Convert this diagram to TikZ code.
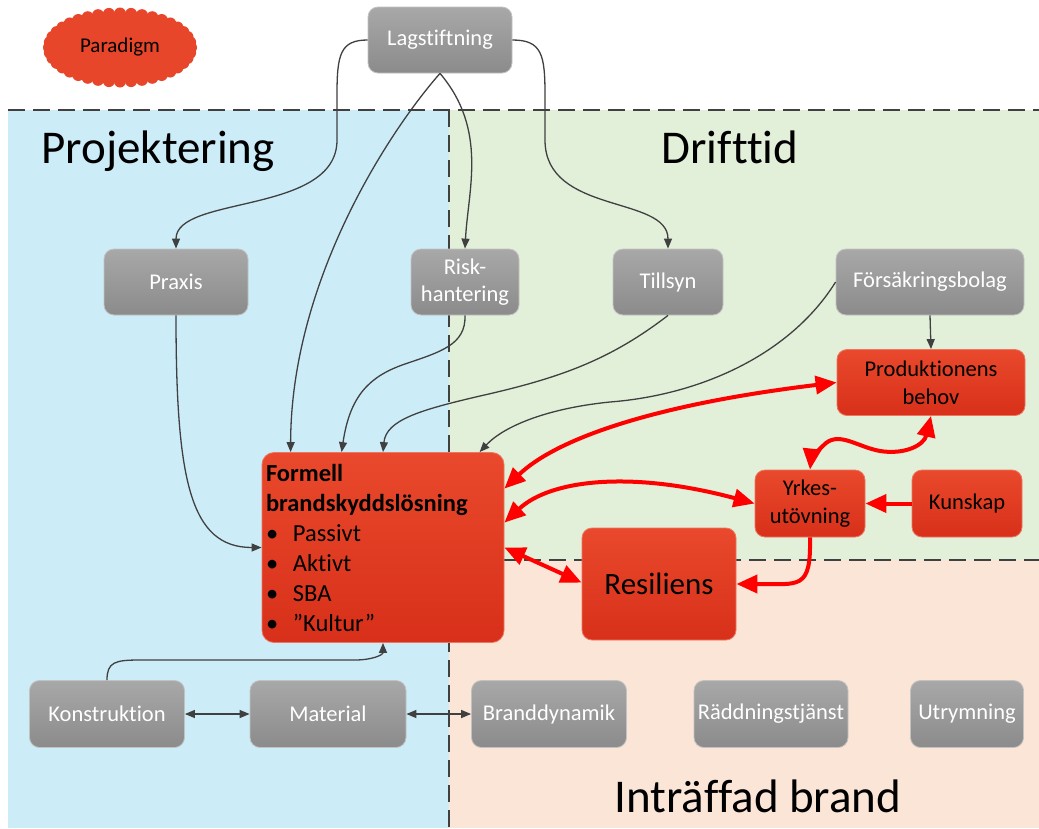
\documentclass[tikz,border=0pt]{standalone}
\usepackage{fontspec}
\setmainfont{Carlito}[Ligatures=NoCommon]
\usetikzlibrary{arrows.meta,calc}
\definecolor{bgblue}{HTML}{CCECF8}
\definecolor{bggreen}{HTML}{E2EFD9}
\definecolor{bgpeach}{HTML}{FBE5D6}
\definecolor{graytop}{HTML}{A8A8A8}
\definecolor{graybot}{HTML}{8B8B8B}
\definecolor{redtop}{HTML}{E9492C}
\definecolor{redbot}{HTML}{D8301A}
\definecolor{lineg}{HTML}{404040}
\definecolor{cloudred}{HTML}{E8462A}
\newcommand{\bul}{\makebox[27pt][l]{\textbullet}}
\tikzset{
  graybox/.style={rectangle, rounded corners=10pt, top color=graytop, bottom color=graybot,
    draw=graytop!70!white, line width=0.8pt, text=white, align=center,
    font=\fontsize{22.5}{27.5}\selectfont, minimum height=66pt, inner sep=2pt},
  redbox/.style={rectangle, rounded corners=10pt, top color=redtop, bottom color=redbot,
    draw=redtop!75!white, line width=0.8pt, text=black, align=center,
    font=\fontsize{22.5}{28}\selectfont, minimum height=66pt, inner sep=2pt},
  conn/.style={draw=lineg, line width=1.3pt, -{Triangle[length=10pt,width=8pt]}},
  dconn/.style={draw=lineg, line width=1.3pt, {Triangle[length=10pt,width=8pt]}-{Triangle[length=10pt,width=8pt]}},
  redone/.style={draw=red, line width=4pt, -{Triangle[length=21pt,width=18pt]}},
  redtwo/.style={draw=red, line width=4pt, {Triangle[length=21pt,width=18pt]}-{Triangle[length=21pt,width=18pt]}},
  divider/.style={draw=lineg, line width=2pt, dash pattern=on 17pt off 8pt},
  region/.style={font=\fontsize{47}{56}\selectfont, text=black, anchor=base, inner sep=0pt},
  puff/.style={fill=cloudred}
}
\begin{document}
\begin{tikzpicture}[x=1pt,y=-1pt]
\useasboundingbox (0,0) rectangle (1039,828);
\fill[white] (0,0) rectangle (1039,828);
% regions
\fill[bgblue] (8,110) rectangle (449,828);
\fill[bggreen] (449,110) rectangle (1039,560);
\fill[bgpeach] (449,560) rectangle (1039,828);
\draw[divider] (8,110) -- (1039,110);
\draw[divider] (449,110) -- (449,828);
\draw[divider] (449,560) -- (1039,560);
\node[region] (lproj) at (158,163) {Projektering};
\node[region] (ldrift) at (730,163) {Drifttid};
\node[region] (lbrand) at (758,812) {Inträffad brand};
% cloud
\foreach \a in {0,9,...,359} {
  \fill[puff] ($(120,47.5)+({71*cos(\a)},{34*sin(\a)})$) circle [radius=6pt];
}
\fill[puff] (49,47.5) .. controls (49,27) and (85,13.5) .. (120,13.5) .. controls (155,13.5) and (191,27) .. (191,47.5)
  .. controls (191,68) and (155,81.5) .. (120,81.5) .. controls (85,81.5) and (49,68) .. (49,47.5) -- cycle;
\node[font=\fontsize{21}{25}\selectfont, text=black] (paradigm) at (120,47.5) {Paradigm};
% gray nodes
\node[graybox, minimum width=144pt] (lag) at (440,40) {Lagstiftning};
\node[graybox, minimum width=144pt] (praxis) at (176,282) {Praxis};
\node[graybox, minimum width=108pt] (risk) at (465,282) {Risk-\\hantering};
\node[graybox, minimum width=110pt] (tillsyn) at (668,282) {Tillsyn};
\node[graybox, minimum width=188pt] (fors) at (930,282) {Försäkringsbolag};
\node[graybox, minimum width=155pt, minimum height=67pt] (kon) at (107,714) {Konstruktion};
\node[graybox, minimum width=156pt, minimum height=67pt] (mat) at (328,714) {Material};
\node[graybox, minimum width=155pt, minimum height=67pt] (bdyn) at (549,714) {Branddynamik};
\node[graybox, minimum width=154pt, minimum height=67pt] (radd) at (771,714) {Räddningstjänst};
\node[graybox, minimum width=113pt, minimum height=67pt] (utr) at (967,714) {Utrymning};
% red nodes
\node[redbox, minimum width=188pt] (prod) at (931,382.5) {Produktionens\\behov};
\node[redbox, minimum width=110pt, minimum height=67pt] (yrk) at (810,503.5) {Yrkes-\\utövning};
\node[redbox, minimum width=110pt, minimum height=67pt] (kun) at (967,503.5) {Kunskap};
\node[redbox, minimum width=154pt, minimum height=112pt, font=\fontsize{31}{36}\selectfont] (res) at (659,584) {Resiliens};
\node[redbox, rounded corners=12pt, minimum width=242pt, minimum height=190pt, text width=234pt, inner sep=4pt,
  align=left, font=\fontsize{24.5}{30}\selectfont] (formell) at (383,547.5)
  {\textbf{Formell}\\\textbf{brandskyddslösning}\\\bul Passivt\\\bul Aktivt\\\bul SBA\\\bul ”Kultur”};
% gray connectors
\draw[conn] (lag.west) .. controls (340,40) and (337,55) .. (337,95) -- (337,140)
  .. controls (337,215) and (176,195) .. (praxis.north);
\draw[conn] (lag.east) .. controls (542,40) and (545,55) .. (545,95) -- (545,140)
  .. controls (545,215) and (668,195) .. (tillsyn.north);
\draw[conn] (lag.south) .. controls (488,130) and (468,190) .. (risk.north);
\draw[conn] (lag.south) .. controls (390,130) and (291,280) .. ($(formell.north west)+(29,0)$);
\draw[conn] (praxis.south) .. controls (176,480) and (190,547.5) .. (formell.west);
\draw[conn] (risk.south) .. controls (466,345) and (440,352) .. (405,364)
  .. controls (370,376) and (350,395) .. ($(formell.north west)+(80,0)$);
\draw[conn] (tillsyn.south) .. controls (610,360) and (560,378) .. (480,396)
  .. controls (420,410) and (386,420) .. (formell.north);
\draw[conn] (fors.west) .. controls (790,355) and (700,395) .. (610,402)
  .. controls (550,408) and (505,425) .. ($(formell.north west)+(218,0)$);
\draw[conn] (fors.south) -- (prod.north);
\draw[conn] (kon.north) .. controls (107,662) and (115,660) .. (140,660) -- (355,660)
  .. controls (372,660) and (383,655) .. (formell.south);
\draw[dconn] (kon.east) -- (mat.west);
\draw[dconn] (mat.east) -- (bdyn.west);
% red connectors
\draw[redtwo] ($(formell.north east)+(0,36.5)$) .. controls (555,440) and (650,405) .. (prod.west);
\draw[redtwo] ($(formell.north east)+(0,70.5)$) .. controls (550,480) and (630,470) .. (yrk.west);
\draw[redtwo] (formell.east) -- ($(res.north west)+(0,55)$);
\draw[redone] (yrk.south) .. controls (811,590) and (800,584) .. (res.east);
\draw[redone] (kun.west) -- (yrk.east);
\draw[redtwo] (prod.south) .. controls (924,445) and (905,455) .. (880,451)
  .. controls (858,447) and (840,432) .. (826,443) .. controls (818,450) and (811,460) .. (yrk.north);
\end{tikzpicture}
\end{document}
